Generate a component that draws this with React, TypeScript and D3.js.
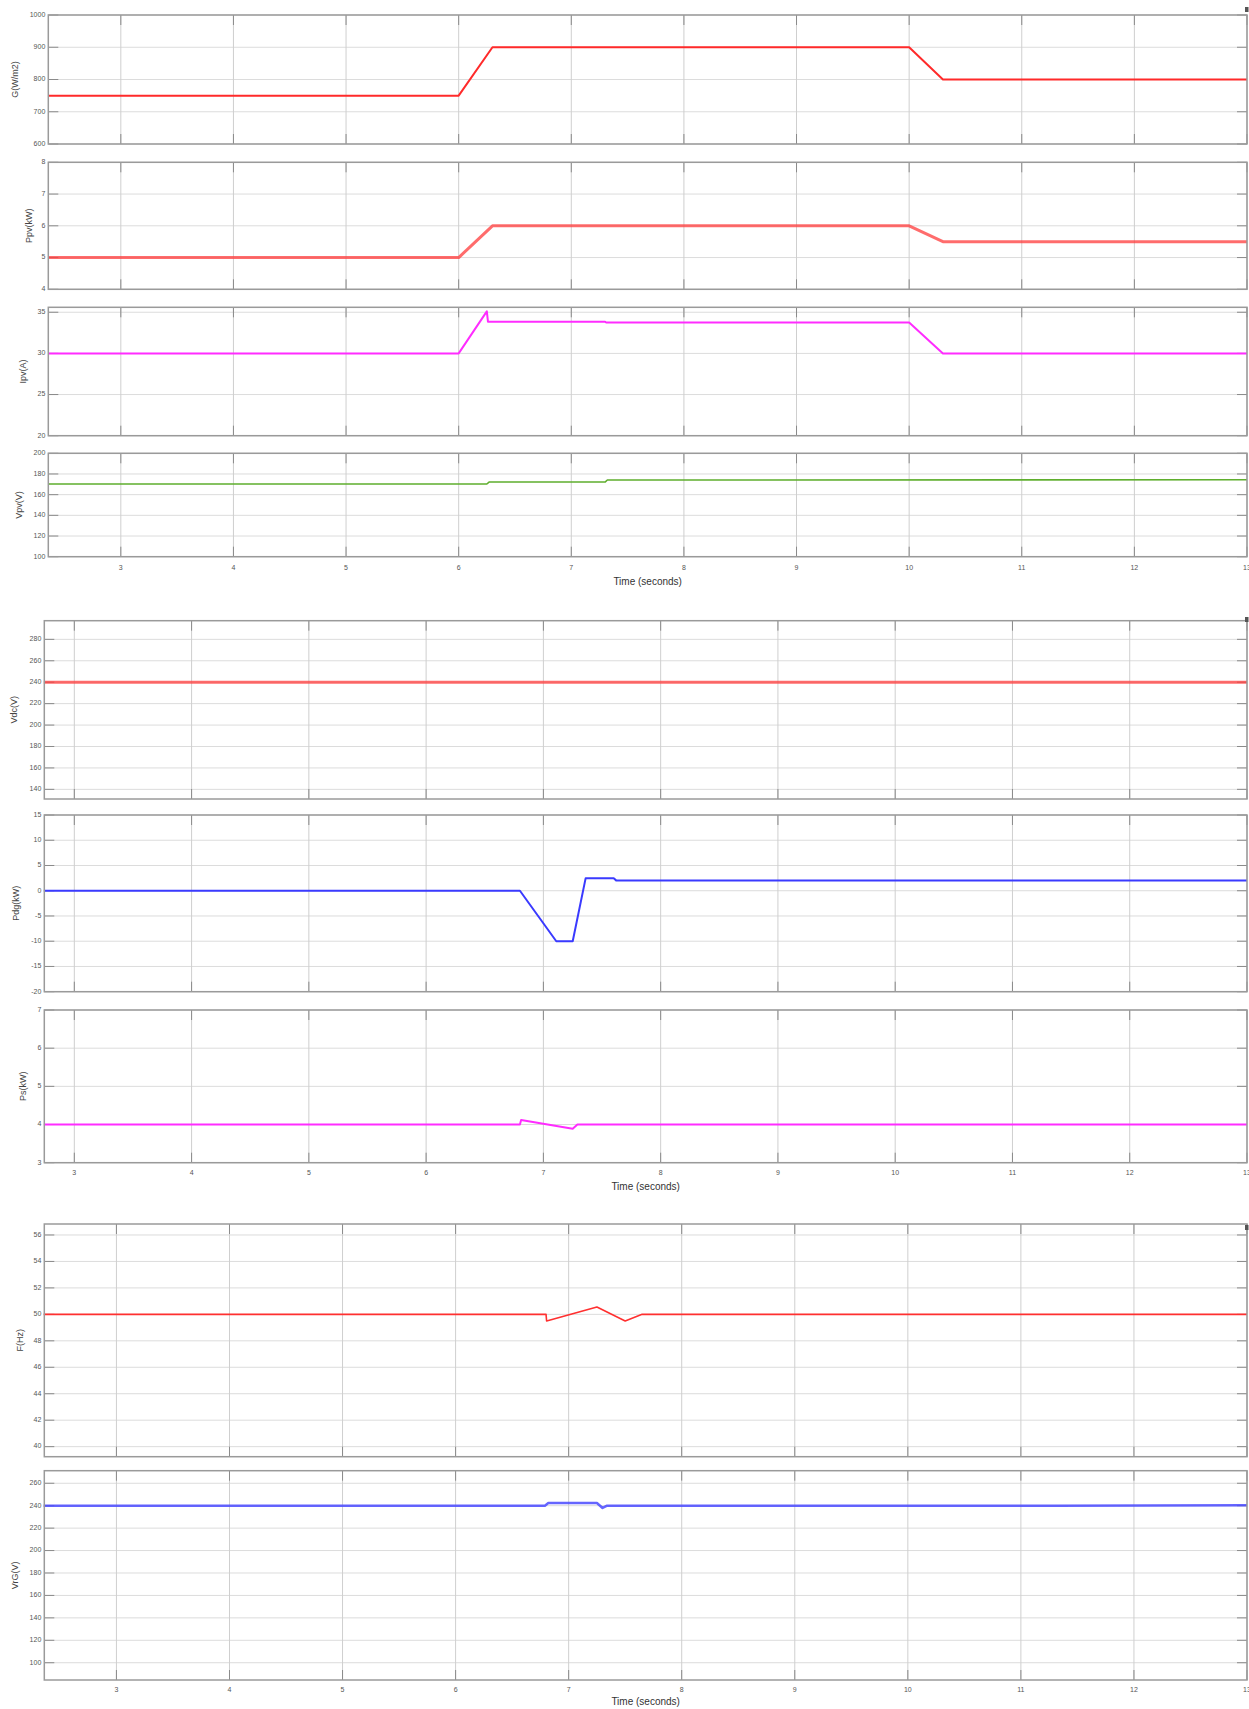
import React from "react";
import * as d3 from "d3";

// ---------- data ----------
const TIME_TICKS = [3, 4, 5, 6, 7, 8, 9, 10, 11, 12, 13];

const G_T = [2.356, 6.0, 6.3, 10.0, 10.3, 13];
const G_V = [750, 750, 900, 900, 800, 800];
const G_TICKS = [600, 700, 800, 900, 1000];

const PPV_T = [2.356, 6.0, 6.3, 10.0, 10.3, 13];
const PPV_V = [5, 5, 6, 6, 5.5, 5.5];
const PPV_TICKS = [4, 5, 6, 7, 8];

const IPV_T = [2.356, 6.0, 6.25, 6.26, 7.3, 7.31, 10.0, 10.3, 13];
const IPV_V = [30, 30, 35.1, 33.85, 33.85, 33.75, 33.75, 30, 30];
const IPV_TICKS = [20, 25, 30, 35];

const VPV_T = [2.356, 6.25, 6.27, 7.3, 7.32, 13];
const VPV_V = [170.3, 170.3, 172.2, 172.2, 174.2, 174.4];
const VPV_TICKS = [100, 120, 140, 160, 180, 200];

const VDC_T = [2.74, 13];
const VDC_V = [240, 240];
const VDC_TICKS = [140, 160, 180, 200, 220, 240, 260, 280];

const PDG_T = [2.74, 6.8, 7.11, 7.25, 7.36, 7.6, 7.62, 13];
const PDG_V = [0, 0, -10, -10, 2.45, 2.45, 2.05, 2.05];
const PDG_TICKS = [-20, -15, -10, -5, 0, 5, 10, 15];

const PS_T = [2.74, 6.8, 6.81, 7.25, 7.29, 13];
const PS_V = [4, 4, 4.12, 3.89, 4.0, 4.0];
const PS_TICKS = [3, 4, 5, 6, 7];

const F_T = [2.356, 6.8, 6.805, 7.25, 7.5, 7.65, 13];
const F_V = [50, 50, 49.5, 50.55, 49.5, 50, 50];
const F_TICKS = [40, 42, 44, 46, 48, 50, 52, 54, 56];

const VRG_T = [2.356, 6.79, 6.82, 7.25, 7.3, 7.34, 11.3, 13];
const VRG_V = [240, 240, 242.4, 242.4, 238, 240, 240, 240.3];
const VRG_TICKS = [100, 120, 140, 160, 180, 200, 220, 240, 260];

// ---------- layout ----------
type PanelCfg = {
  top: number; bottom: number; domain: [number, number]; ticks: number[];
  label: string; labelX: number; t: number[]; v: number[];
  color: string; width: number; opacity?: number;
};
type GroupCfg = {
  left: number; right: number; xDomain: [number, number];
  tickLabelY: number; titleY: number; markY: number; panels: PanelCfg[];
};

const GROUPS: GroupCfg[] = [
  {
    left: 48.3, right: 1247, xDomain: [2.356, 13], tickLabelY: 568.5, titleY: 582, markY: 7,
    panels: [
      { top: 15, bottom: 144, domain: [600, 1000], ticks: G_TICKS, label: "G(W/m2)", labelX: 16, t: G_T, v: G_V, color: "#ff2a2a", width: 2 },
      { top: 162.3, bottom: 289.3, domain: [4, 8], ticks: PPV_TICKS, label: "Ppv(kW)", labelX: 30, t: PPV_T, v: PPV_V, color: "#ff3b3b", width: 3, opacity: 0.75 },
      { top: 307.3, bottom: 435.7, domain: [20, 35.6], ticks: IPV_TICKS, label: "Ipv(A)", labelX: 24, t: IPV_T, v: IPV_V, color: "#ff2cff", width: 2 },
      { top: 453.3, bottom: 556.7, domain: [100, 200], ticks: VPV_TICKS, label: "Vpv(V)", labelX: 20, t: VPV_T, v: VPV_V, color: "#5fae2e", width: 1.6 },
    ],
  },
  {
    left: 44.3, right: 1247, xDomain: [2.744, 13], tickLabelY: 1173.5, titleY: 1187, markY: 617,
    panels: [
      { top: 620.7, bottom: 799, domain: [131, 297.4], ticks: VDC_TICKS, label: "Vdc(V)", labelX: 14.5, t: VDC_T, v: VDC_V, color: "#ff3b3b", width: 3, opacity: 0.75 },
      { top: 815, bottom: 991.7, domain: [-20, 15], ticks: PDG_TICKS, label: "Pdg(kW)", labelX: 17, t: PDG_T, v: PDG_V, color: "#3a3aff", width: 2 },
      { top: 1010, bottom: 1162.7, domain: [3, 7], ticks: PS_TICKS, label: "Ps(kW)", labelX: 24, t: PS_T, v: PS_V, color: "#ff2cff", width: 2 },
    ],
  },
  {
    left: 44.3, right: 1247, xDomain: [2.362, 13], tickLabelY: 1690, titleY: 1702, markY: 1225,
    panels: [
      { top: 1224, bottom: 1456.7, domain: [39.24, 56.83], ticks: F_TICKS, label: "F(Hz)", labelX: 21, t: F_T, v: F_V, color: "#ff3030", width: 1.6 },
      { top: 1470.7, bottom: 1680, domain: [84.6, 271.2], ticks: VRG_TICKS, label: "VrG(V)", labelX: 16, t: VRG_T, v: VRG_V, color: "#4a4aff", width: 2.5, opacity: 0.85 },
    ],
  },
];

const FONT = "'Liberation Sans', Arial, sans-serif";
const TICK_LEN = 10;

function Panel({ g, p }: { g: GroupCfg; p: PanelCfg }) {
  const x = d3.scaleLinear().domain(g.xDomain).range([g.left, g.right]);
  const y = d3.scaleLinear().domain(p.domain).range([p.bottom, p.top]);
  const pts = p.t.map((t, i) => [t, p.v[i]] as [number, number]);
  const line = d3.line<[number, number]>().x((d) => x(d[0])).y((d) => y(d[1]));
  const xt = TIME_TICKS.filter((t) => t >= g.xDomain[0] && t <= g.xDomain[1] + 1e-9);
  const midY = (p.top + p.bottom) / 2;
  return (
    <g>
      <rect x={g.left} y={p.top} width={g.right - g.left} height={p.bottom - p.top} fill="#fff" />
      {p.ticks.map((v) => (
        <line key={"h" + v} x1={g.left} x2={g.right} y1={y(v)} y2={y(v)} stroke="#dcdcdc" strokeWidth={1} />
      ))}
      {xt.map((t) => (
        <line key={"v" + t} x1={x(t)} x2={x(t)} y1={p.top} y2={p.bottom} stroke="#cfcfcf" strokeWidth={1} />
      ))}
      {p.ticks.map((v) => (
        <g key={"t" + v}>
          <line x1={g.left} x2={g.left + TICK_LEN} y1={y(v)} y2={y(v)} stroke="#8a8a8a" strokeWidth={1} />
          <line x1={g.right - TICK_LEN} x2={g.right} y1={y(v)} y2={y(v)} stroke="#8a8a8a" strokeWidth={1} />
          <text x={g.left - 3} y={y(v)} fontSize={7} fill="#555" textAnchor="end" dominantBaseline="middle" fontFamily={FONT}>
            {v}
          </text>
        </g>
      ))}
      {xt.map((t) => (
        <g key={"xt" + t}>
          <line x1={x(t)} x2={x(t)} y1={p.top} y2={p.top + TICK_LEN} stroke="#8a8a8a" strokeWidth={1} />
          <line x1={x(t)} x2={x(t)} y1={p.bottom - TICK_LEN} y2={p.bottom} stroke="#8a8a8a" strokeWidth={1} />
        </g>
      ))}
      <path d={line(pts) || ""} fill="none" stroke={p.color} strokeWidth={p.width} strokeOpacity={p.opacity ?? 1} strokeLinejoin="round" />
      <rect x={g.left} y={p.top} width={g.right - g.left} height={p.bottom - p.top} fill="none" stroke="#9a9a9a" strokeWidth={1.5} />
      <text
        transform={`translate(${p.labelX},${midY}) rotate(-90)`}
        fontSize={9}
        fill="#444"
        textAnchor="middle"
        dominantBaseline="middle"
        fontFamily={FONT}
      >
        {p.label}
      </text>
    </g>
  );
}

function Group({ g }: { g: GroupCfg }) {
  const x = d3.scaleLinear().domain(g.xDomain).range([g.left, g.right]);
  const xt = TIME_TICKS.filter((t) => t >= g.xDomain[0] && t <= g.xDomain[1] + 1e-9);
  return (
    <g>
      {g.panels.map((p, i) => (
        <Panel key={i} g={g} p={p} />
      ))}
      {xt.map((t) => (
        <text key={t} x={x(t)} y={g.tickLabelY} fontSize={7} fill="#555" textAnchor="middle" dominantBaseline="middle" fontFamily={FONT}>
          {t}
        </text>
      ))}
      <text x={(g.left + g.right) / 2} y={g.titleY} fontSize={10} fill="#333" textAnchor="middle" dominantBaseline="middle" fontFamily={FONT}>
        Time (seconds)
      </text>
      <rect x={g.right - 2} y={g.markY} width={3.5} height={5} fill="#555" />
    </g>
  );
}

export default function App() {
  return (
    <svg
      width={1249}
      height={1709}
      style={{ position: "absolute", left: 0, top: 0, background: "#fff" }}
      xmlns="http://www.w3.org/2000/svg"
    >
      <rect x={0} y={0} width={1249} height={1709} fill="#fff" />
      {GROUPS.map((g, i) => (
        <Group key={i} g={g} />
      ))}
    </svg>
  );
}
